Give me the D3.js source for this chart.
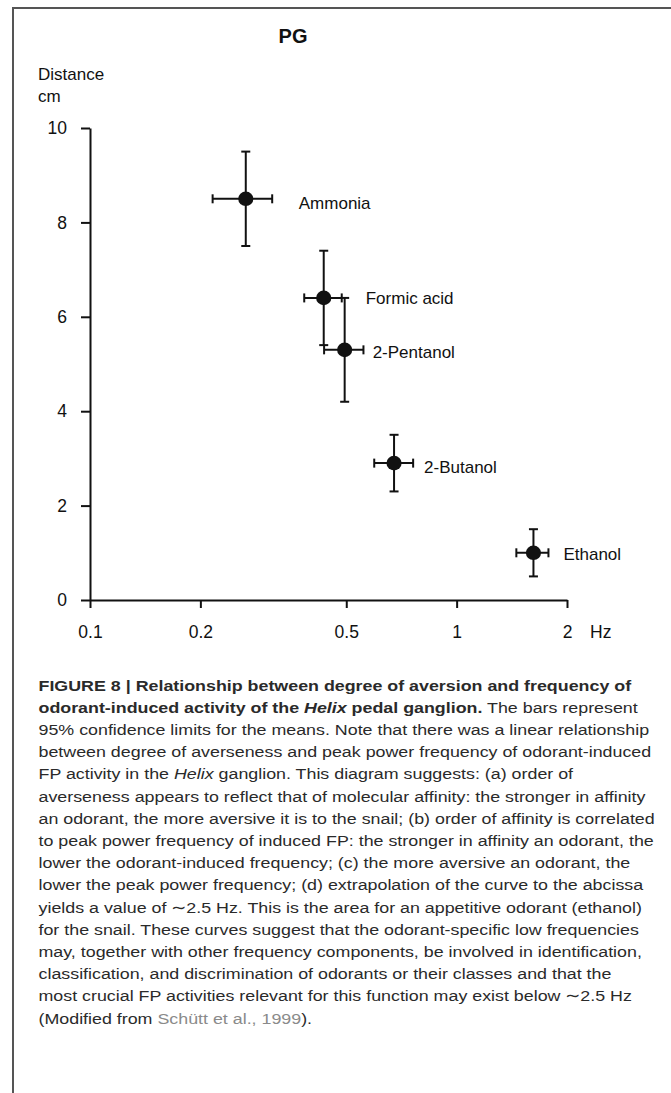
<!DOCTYPE html>
<html><head><meta charset="utf-8">
<script src="https://cdn.jsdelivr.net/npm/d3@7"></script>
<style>
html,body{margin:0;padding:0;background:#fff;}
svg{display:block;}
</style></head>
<body>
<svg id="chart" width="671" height="1093"></svg>
<script>
// ---- data ----
const odorants = ["Ammonia", "Formic acid", "2-Pentanol", "2-Butanol", "Ethanol"];
const freqHz   = [0.266, 0.434, 0.495, 0.675, 1.62];
const freqLo   = [0.216, 0.384, 0.435, 0.596, 1.455];
const freqHi   = [0.314, 0.486, 0.557, 0.761, 1.78];
const distCm   = [8.5, 6.4, 5.3, 2.9, 1.0];
const distLo   = [7.5, 5.4, 4.2, 2.3, 0.5];
const distHi   = [9.5, 7.4, 6.4, 3.5, 1.5];
const xTicks = [0.1, 0.2, 0.5, 1, 2];
const yTicks = [0, 2, 4, 6, 8, 10];

const captionLines = [
  [["b","FIGURE 8 | Relationship between degree of aversion and frequency of"]],
  [["b","odorant-induced activity of the "],["bi","Helix"],["b"," pedal ganglion."],["n"," The bars represent"]],
  [["n","95% confidence limits for the means. Note that there was a linear relationship"]],
  [["n","between degree of averseness and peak power frequency of odorant-induced"]],
  [["n","FP activity in the "],["i","Helix"],["n"," ganglion. This diagram suggests: (a) order of"]],
  [["n","averseness appears to reflect that of molecular affinity: the stronger in affinity"]],
  [["n","an odorant, the more aversive it is to the snail; (b) order of affinity is correlated"]],
  [["n","to peak power frequency of induced FP: the stronger in affinity an odorant, the"]],
  [["n","lower the odorant-induced frequency; (c) the more aversive an odorant, the"]],
  [["n","lower the peak power frequency; (d) extrapolation of the curve to the abcissa"]],
  [["n","yields a value of \u223C2.5 Hz. This is the area for an appetitive odorant (ethanol)"]],
  [["n","for the snail. These curves suggest that the odorant-specific low frequencies"]],
  [["n","may, together with other frequency components, be involved in identification,"]],
  [["n","classification, and discrimination of odorants or their classes and that the"]],
  [["n","most crucial FP activities relevant for this function may exist below \u223C2.5 Hz"]],
  [["n","(Modified from "],["l","Sch\u00FCtt et al., 1999"],["n",")."]]
];

// ---- layout ----
const svg = d3.select("#chart");
const FONT = "'Liberation Sans', Arial, Helvetica, sans-serif";

// frame
svg.append("rect").attr("x", 13).attr("y", 8).attr("width", 700).attr("height", 1200)
  .attr("fill", "none").attr("stroke", "#555").attr("stroke-width", 2);

const x = d3.scaleLog().domain([0.1, 2]).range([90, 567]);
const y = d3.scaleLinear().domain([0, 10]).range([600, 128]);

// axes
const xAxis = svg.append("g").attr("transform", `translate(0,${y(0)})`)
  .call(d3.axisBottom(x).tickValues(xTicks).tickFormat(d => String(d))
        .tickSize(8).tickSizeOuter(0).tickPadding(18));
const yAxis = svg.append("g").attr("transform", `translate(${x(0.1)},0)`)
  .call(d3.axisLeft(y).tickValues(yTicks).tickFormat(d => String(d))
        .tickSize(9).tickSizeOuter(0).tickPadding(14));
[xAxis, yAxis].forEach(g => {
  g.select(".domain").attr("stroke", "#111").attr("stroke-width", 2);
  g.selectAll(".tick line").attr("stroke", "#111").attr("stroke-width", 2);
  g.selectAll(".tick text").attr("fill", "#111").style("font-family", FONT).style("font-size", "17.5px");
});

// axis titles
svg.append("text").attr("x", 590).attr("y", y(0) + 26).attr("dy", "0.71em")
  .style("font-family", FONT).style("font-size", "17.5px").attr("fill", "#111").text("Hz");
svg.append("text").attr("x", 38).attr("y", 80)
  .style("font-family", FONT).style("font-size", "17px").attr("fill", "#111").text("Distance");
svg.append("text").attr("x", 38).attr("y", 102)
  .style("font-family", FONT).style("font-size", "17px").attr("fill", "#111").text("cm");
svg.append("text").attr("x", 293).attr("y", 43).attr("text-anchor", "middle")
  .style("font-family", FONT).style("font-size", "20px").style("font-weight", "bold")
  .attr("fill", "#111").text("PG");

// error bars and points
const pts = odorants.map((n, i) => ({name: n, fx: freqHz[i], lo: freqLo[i], hi: freqHi[i],
  d: distCm[i], dlo: distLo[i], dhi: distHi[i]}));
const labelOffset = {"Ammonia": [53, 4], "Formic acid": [42, 0], "2-Pentanol": [28, 2],
  "2-Butanol": [30, 4], "Ethanol": [30, 1]};
const cap = 4.5;
const g = svg.append("g").attr("stroke", "#111").attr("stroke-width", 2).attr("fill", "none");
pts.forEach(p => {
  const cx = x(p.fx), cy = y(p.d);
  g.append("line").attr("x1", cx).attr("x2", cx).attr("y1", y(p.dhi)).attr("y2", y(p.dlo));
  g.append("line").attr("x1", cx - cap).attr("x2", cx + cap).attr("y1", y(p.dhi)).attr("y2", y(p.dhi));
  g.append("line").attr("x1", cx - cap).attr("x2", cx + cap).attr("y1", y(p.dlo)).attr("y2", y(p.dlo));
  g.append("line").attr("x1", x(p.lo)).attr("x2", x(p.hi)).attr("y1", cy).attr("y2", cy);
  g.append("line").attr("x1", x(p.lo)).attr("x2", x(p.lo)).attr("y1", cy - cap).attr("y2", cy + cap);
  g.append("line").attr("x1", x(p.hi)).attr("x2", x(p.hi)).attr("y1", cy - cap).attr("y2", cy + cap);
});
svg.append("g").selectAll("ellipse").data(pts).join("ellipse")
  .attr("cx", p => x(p.fx)).attr("cy", p => y(p.d)).attr("rx", 7.6).attr("ry", 7.3).attr("fill", "#111");
svg.append("g").selectAll("text").data(pts).join("text")
  .attr("x", p => x(p.fx) + labelOffset[p.name][0])
  .attr("y", p => y(p.d) + labelOffset[p.name][1]).attr("dy", "0.35em")
  .style("font-family", FONT).style("font-size", "17px").attr("fill", "#111").text(p => p.name);

// caption: one uniform horizontal condensing so the longest line ends near x=655
const capG = svg.append("g");
const texts = captionLines.map(line => {
  const t = capG.append("text").attr("x", 0).attr("y", 0)
    .style("font-family", FONT).style("font-size", "15.5px").attr("fill", "#2a2a2a");
  line.forEach(([s, str]) => {
    const ts = t.append("tspan").text(str);
    if (s === "b" || s === "bi") ts.style("font-weight", "bold");
    if (s === "i" || s === "bi") ts.style("font-style", "italic");
    if (s === "l") ts.attr("fill", "#8a8a8a");
  });
  return t;
});
const widths = texts.map(t => t.node().getComputedTextLength());
const sc = (655 - 38.5) / d3.max(widths);
texts.forEach((t, i) => t.attr("transform", `translate(38.5,${690.5 + i * 22.2}) scale(${sc},1)`));
</script>
</body></html>
